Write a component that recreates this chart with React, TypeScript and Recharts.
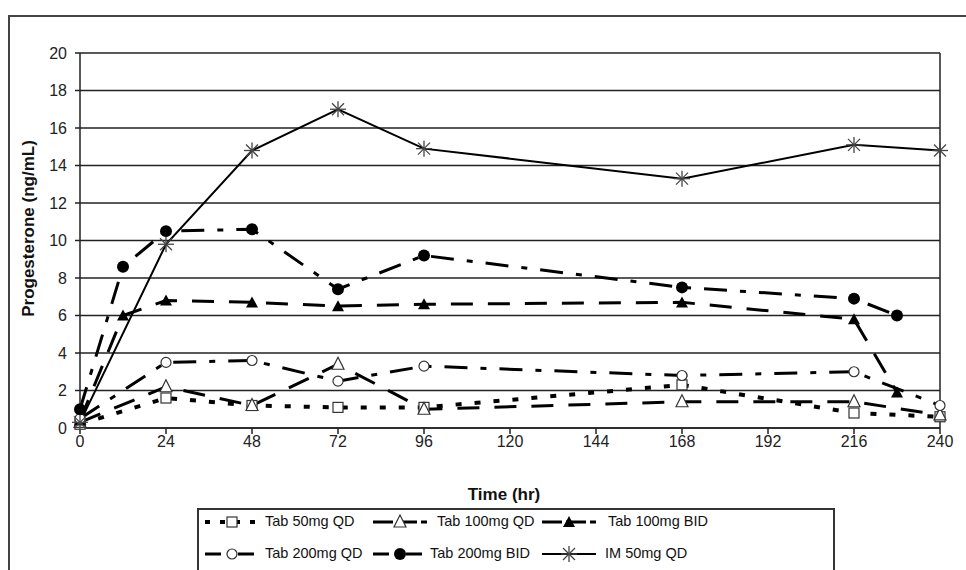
import { LineChart, Line, XAxis, YAxis, CartesianGrid, ReferenceLine } from "recharts";

const hours = [0, 12, 24, 48, 72, 96, 168, 216, 228, 240];
const tab50QD = [0.2, null, 1.6, 1.2, 1.1, 1.1, 2.3, 0.8, null, 0.6];
const tab100QD = [0.3, null, 2.2, 1.2, 3.4, 1.0, 1.4, 1.4, null, 0.7];
const tab100BID = [0.4, 6.0, 6.8, 6.7, 6.5, 6.6, 6.7, 5.8, 1.9, null];
const tab200QD = [0.5, null, 3.5, 3.6, 2.5, 3.3, 2.8, 3.0, null, 1.2];
const tab200BID = [1.0, 8.6, 10.5, 10.6, 7.4, 9.2, 7.5, 6.9, 6.0, null];
const im50QD = [0.3, null, 9.8, 14.8, 17.0, 14.9, 13.3, 15.1, null, 14.8];

const xTicks = [0, 24, 48, 72, 96, 120, 144, 168, 192, 216, 240];
const yTicks = [0, 2, 4, 6, 8, 10, 12, 14, 16, 18, 20];

const data = hours.map((h, i) => ({
  hour: h,
  tab50QD: tab50QD[i],
  tab100QD: tab100QD[i],
  tab100BID: tab100BID[i],
  tab200QD: tab200QD[i],
  tab200BID: tab200BID[i],
  im50QD: im50QD[i],
}));

const FONT = '"Liberation Sans", Arial, sans-serif';

type Shape = "openSquare" | "openTri" | "tri" | "openCircle" | "circle" | "star";

function Marker({ shape, x, y }: { shape: Shape; x: number; y: number }) {
  switch (shape) {
    case "openSquare":
      return <rect x={x - 5} y={y - 5} width={10} height={10} fill="#fff" stroke="#333" strokeWidth={1.2} />;
    case "openTri":
      return (
        <polygon
          points={`${x},${y - 7} ${x - 6},${y + 5} ${x + 6},${y + 5}`}
          fill="#fff"
          stroke="#333"
          strokeWidth={1.2}
        />
      );
    case "tri":
      return <polygon points={`${x},${y - 6} ${x - 6},${y + 5} ${x + 6},${y + 5}`} fill="#000" />;
    case "openCircle":
      return <circle cx={x} cy={y} r={5} fill="#fff" stroke="#333" strokeWidth={1.2} />;
    case "circle":
      return <circle cx={x} cy={y} r={6} fill="#000" />;
    case "star":
      return (
        <g stroke="#444" strokeWidth={1.3}>
          <line x1={x - 8} y1={y} x2={x + 8} y2={y} />
          <line x1={x} y1={y - 8} x2={x} y2={y + 8} />
          <line x1={x - 6} y1={y - 6} x2={x + 6} y2={y + 6} />
          <line x1={x - 6} y1={y + 6} x2={x + 6} y2={y - 6} />
        </g>
      );
  }
}

const dotFor = (shape: Shape) => (props: any) => {
  const { cx, cy, value, index } = props;
  if (value == null || cx == null || cy == null) return <g key={`e-${shape}-${index}`} />;
  return (
    <g key={`${shape}-${index}`}>
      <Marker shape={shape} x={cx} y={cy} />
    </g>
  );
};

const series = [
  { key: "tab50QD", name: "Tab 50mg QD", shape: "openSquare" as Shape, dash: "6 13", legendDash: "5 10", width: 4 },
  { key: "tab100QD", name: "Tab 100mg QD", shape: "openTri" as Shape, dash: "22 15", legendDash: "20 4", width: 3 },
  { key: "tab100BID", name: "Tab 100mg BID", shape: "tri" as Shape, dash: "22 15", legendDash: "20 4", width: 3 },
  { key: "tab200QD", name: "Tab 200mg QD", shape: "openCircle" as Shape, dash: "23 13 6 13", legendDash: "16 6 5 6", width: 3 },
  { key: "tab200BID", name: "Tab 200mg BID", shape: "circle" as Shape, dash: "23 13 6 13", legendDash: "16 6 5 6", width: 3 },
  { key: "im50QD", name: "IM 50mg QD", shape: "star" as Shape, dash: undefined, legendDash: undefined, width: 2 },
];

const legendPos = [
  { left: 6, top: 12, text: 66 },
  { left: 174, top: 12, text: 238 },
  { left: 343, top: 12, text: 409 },
  { left: 6, top: 44, text: 66 },
  { left: 174, top: 44, text: 231 },
  { left: 343, top: 44, text: 406 },
];

function LegendBox() {
  return (
    <div
      style={{
        position: "absolute",
        left: 197,
        top: 508,
        width: 634,
        height: 80,
        border: "2px solid #333",
        background: "#fff",
        fontFamily: FONT,
        fontSize: 14.5,
        color: "#111",
      }}
    >
      {series.map((s, i) => {
        const p = legendPos[i];
        return (
          <div key={s.key}>
            <svg style={{ position: "absolute", left: p.left, top: p.top - 10 }} width={56} height={20}>
              <line x1={0} y1={10} x2={54} y2={10} stroke="#000" strokeWidth={s.width} strokeDasharray={s.legendDash} />
              <Marker shape={s.shape} x={27} y={10} />
            </svg>
            <span style={{ position: "absolute", left: p.text, top: p.top - 9, whiteSpace: "nowrap" }}>{s.name}</span>
          </div>
        );
      })}
    </div>
  );
}

export default function App() {
  return (
    <div style={{ position: "fixed", left: 0, top: 0, width: 966, height: 570, overflow: "hidden", background: "#fff" }}>
      <div
        style={{
          position: "absolute",
          left: 8,
          top: 15,
          width: 1000,
          height: 700,
          borderLeft: "2px solid #444",
          borderTop: "2px solid #444",
        }}
      />
      <div style={{ position: "absolute", left: 0, top: 0 }}>
        <LineChart width={966} height={570} data={data} margin={{ top: 53, right: 26, bottom: 67, left: 0 }}>
          <CartesianGrid horizontal vertical={false} stroke="#222" strokeWidth={1.5} />
          <XAxis
            dataKey="hour"
            type="number"
            domain={[0, 240]}
            ticks={xTicks}
            interval={0}
            height={75}
            tickSize={6}
            tickMargin={2}
            stroke="#222"
            strokeWidth={1.5}
            tick={{ fill: "#222", fontSize: 16, fontFamily: FONT }}
            label={{
              value: "Time (hr)",
              position: "insideBottom",
              offset: 3,
              dx: -6,
              style: { fontWeight: "bold", fontSize: 17, fill: "#111", fontFamily: FONT },
            }}
          />
          <YAxis
            type="number"
            domain={[0, 20]}
            ticks={yTicks}
            interval={0}
            width={80}
            tickSize={5}
            tickMargin={8}
            stroke="#222"
            strokeWidth={1.5}
            tick={{ fill: "#222", fontSize: 16, fontFamily: FONT }}
            label={{
              value: "Progesterone (ng/mL)",
              angle: -90,
              position: "center",
              dx: -12,
              dy: -12,
              style: { fontWeight: "bold", fontSize: 17, fill: "#111", fontFamily: FONT, textAnchor: "middle" },
            }}
          />
          <ReferenceLine x={240} stroke="#222" strokeWidth={1.5} />
          {series.map((s) => (
            <Line
              key={s.key}
              dataKey={s.key}
              name={s.name}
              type="linear"
              stroke="#000"
              strokeWidth={s.width}
              strokeDasharray={s.dash}
              connectNulls
              dot={dotFor(s.shape)}
              activeDot={false}
              isAnimationActive={false}
            />
          ))}
        </LineChart>
      </div>
      <LegendBox />
    </div>
  );
}
